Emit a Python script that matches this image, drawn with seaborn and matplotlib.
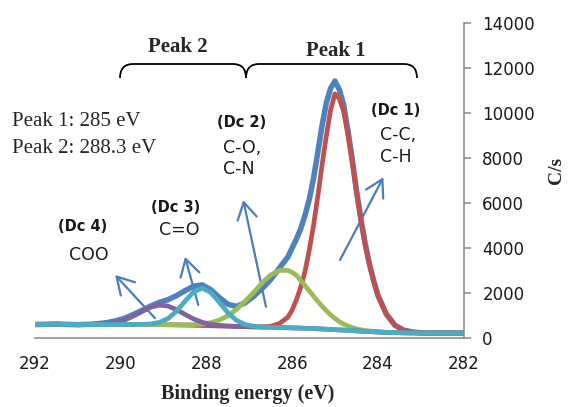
import matplotlib
matplotlib.use("Agg")
import matplotlib.pyplot as plt
import seaborn as sns
from matplotlib.path import Path
from matplotlib.patches import PathPatch, FancyArrowPatch

# ---------------- data ----------------
energy = [292.0, 291.5, 291.0, 290.7, 290.5, 290.3, 290.1, 289.9, 289.7, 289.5,
          289.3, 289.1, 288.9, 288.7, 288.5, 288.3, 288.1, 287.9, 287.7, 287.5,
          287.3, 287.1, 286.9, 286.7, 286.5, 286.3, 286.1, 286.0, 285.9, 285.8,
          285.7, 285.6, 285.5, 285.4, 285.3, 285.2, 285.1, 285.0, 284.9, 284.8,
          284.7, 284.6, 284.5, 284.4, 284.3, 284.2, 284.1, 284.0, 283.8, 283.6,
          283.4, 283.2, 283.0, 282.5, 282.0]

envelope = [600, 615, 592, 610, 640, 690, 770, 880, 1050, 1230,
            1420, 1580, 1700, 1880, 2100, 2300, 2360, 2150, 1800, 1500,
            1400, 1560, 1850, 2200, 2600, 3100, 3600, 4000, 4400, 4850,
            5450, 6150, 7100, 8250, 9450, 10450, 11100, 11420, 11050, 10380,
            9250, 7990, 6600, 5360, 4240, 3330, 2570, 1910, 1060, 565,
            350, 270, 230, 220, 220]

dc1 = [600, 615, 592, 600, 600, 600, 600, 600, 600, 600,
       598, 593, 588, 583, 575, 565, 555, 545, 535, 525,
       515, 505, 497, 492, 520, 640, 920, 1240, 1700, 2250,
       2950, 3900, 5000, 6300, 7700, 9000, 10150, 10850, 10650, 10100,
       9050, 7850, 6500, 5300, 4200, 3300, 2550, 1900, 1050, 560,
       350, 270, 230, 220, 220]

dc2 = [600, 615, 592, 600, 600, 600, 600, 600, 600, 600,
       598, 594, 591, 588, 585, 593, 620, 680, 795, 985,
       1265, 1630, 2020, 2450, 2800, 3000, 3010, 2920, 2780, 2560,
       2330, 2100, 1860, 1630, 1410, 1210, 1030, 870, 730, 620,
       535, 465, 410, 368, 336, 311, 291, 275, 255, 242,
       230, 225, 220, 220, 220]

dc3 = [600, 615, 592, 600, 600, 600, 600, 600, 601, 606,
       626, 691, 859, 1182, 1631, 2047, 2215, 2027, 1591, 1124,
       786, 603, 523, 491, 476, 465, 455, 450, 445, 440,
       432, 425, 418, 410, 400, 390, 380, 370, 360, 350,
       340, 330, 318, 306, 295, 285, 275, 265, 250, 240,
       230, 225, 220, 220, 220]

dc4 = [600, 615, 592, 604, 613, 638, 696, 805, 974, 1180,
       1366, 1461, 1420, 1263, 1050, 848, 698, 607, 558, 532,
       515, 505, 495, 485, 475, 465, 455, 450, 445, 440,
       432, 425, 418, 410, 400, 390, 380, 370, 360, 350,
       340, 330, 318, 306, 295, 285, 275, 265, 250, 240,
       230, 225, 220, 220, 220]

x_ticks = [292, 290, 288, 286, 284, 282]
y_ticks = [0, 2000, 4000, 6000, 8000, 10000, 12000, 14000]

peak_info = ["Peak 1: 285 eV", "Peak 2: 288.3 eV"]
peak_titles = ["Peak 2", "Peak 1"]
dc_titles = ["(Dc 1)", "(Dc 2)", "(Dc 3)", "(Dc 4)"]
dc_bonds = [["C-C,", "C-H"], ["C-O,", "C-N"], ["C=O"], ["COO"]]

# ---------------- figure ----------------
sns.set_style("white")
plt.rcParams["font.family"] = ["DejaVu Sans"]
SERIF = ["Liberation Serif", "DejaVu Serif"]

W, H = 568, 407
fig = plt.figure(figsize=(W / 100, H / 100), dpi=100)
ax = fig.add_axes([35 / W, 1 - 338 / H, (463.5 - 35) / W, (338 - 23) / H])


def fx(px):
    return px / W


def fy(py):
    return 1 - py / H


series = [
    (envelope, "#4F81BD", 4.0),
    (dc1, "#C0504D", 3.4),
    (dc2, "#9BBB59", 3.4),
    (dc4, "#8064A2", 3.4),
    (dc3, "#4BACC6", 3.4),
]
for vals, col, lw in series:
    sns.lineplot(x=energy, y=vals, ax=ax, color=col, linewidth=lw,
                 sort=False, errorbar=None, estimator=None,
                 solid_capstyle="round", solid_joinstyle="round")

ax.set_xlim(292, 282)
ax.set_ylim(0, 14000)
ax.set_xticks(x_ticks)
ax.set_xticklabels([str(t) for t in x_ticks])
ax.set_yticks(y_ticks)
ax.set_yticklabels([str(t) for t in y_ticks])
ax.yaxis.tick_right()
ax.set_xlabel("")
ax.set_ylabel("")
for s in ["left", "top"]:
    ax.spines[s].set_visible(False)
for s in ["right", "bottom"]:
    ax.spines[s].set_color("#868686")
    ax.spines[s].set_linewidth(1.1)
ax.tick_params(axis="x", direction="out", length=4.5, width=1.1, color="#868686",
               pad=8, labelsize=12, labelcolor="#1a1a1a", top=False)
ax.tick_params(axis="y", direction="out", length=5, width=1.1, color="#868686",
               pad=8.5, labelsize=12, labelcolor="#1a1a1a", left=False, right=True)
ax.grid(False)

# axis titles
fig.text(fx(248), fy(399), "Binding energy (eV)", ha="center", va="baseline",
         family=SERIF, fontweight="bold", fontsize=14.5)
fig.text(fx(556), fy(170), "C/s", ha="center", va="center", rotation=90,
         family=SERIF, fontweight="bold", fontsize=14)

# peak info text
fig.text(fx(12), fy(126), peak_info[0], ha="left", va="baseline", family=SERIF, fontsize=15)
fig.text(fx(12), fy(153), peak_info[1], ha="left", va="baseline", family=SERIF, fontsize=15)

# brace titles
fig.text(fx(178), fy(52), peak_titles[0], ha="center", va="baseline", family=SERIF,
         fontweight="bold", fontsize=15)
fig.text(fx(336), fy(56), peak_titles[1], ha="center", va="baseline", family=SERIF,
         fontweight="bold", fontsize=15)

# braces
def brace(x0, x1, ytop=64, ylow=78, r=13):
    verts = [(x0, ylow), (x0, ytop), (x0 + r, ytop), (x1 - r, ytop), (x1, ytop), (x1, ylow)]
    codes = [Path.MOVETO, Path.CURVE3, Path.CURVE3, Path.LINETO, Path.CURVE3, Path.CURVE3]
    verts = [(fx(a), fy(b)) for a, b in verts]
    fig.patches.append(PathPatch(Path(verts, codes), transform=fig.transFigure,
                                 fill=False, edgecolor="black", linewidth=1.3))


brace(120, 246)
brace(246, 417)

# component labels
lab_col = "#1a1a1a"
fig.text(fx(396), fy(110.5), dc_titles[0], ha="center", va="center", fontweight="bold",
         fontsize=10.5, color=lab_col)
fig.text(fx(380), fy(135.5), dc_bonds[0][0], ha="left", va="center", fontsize=12.5, color=lab_col)
fig.text(fx(380), fy(156.5), dc_bonds[0][1], ha="left", va="center", fontsize=12.5, color=lab_col)

fig.text(fx(242), fy(122.5), dc_titles[1], ha="center", va="center", fontweight="bold",
         fontsize=10.5, color=lab_col)
fig.text(fx(223), fy(148), dc_bonds[1][0], ha="left", va="center", fontsize=12.5, color=lab_col)
fig.text(fx(223), fy(168.5), dc_bonds[1][1], ha="left", va="center", fontsize=12.5, color=lab_col)

fig.text(fx(175.5), fy(207), dc_titles[2], ha="center", va="center", fontweight="bold",
         fontsize=10.5, color=lab_col)
fig.text(fx(179), fy(230), dc_bonds[2][0], ha="center", va="center", fontsize=12.5, color=lab_col)

fig.text(fx(83), fy(226.5), dc_titles[3], ha="center", va="center", fontweight="bold",
         fontsize=10.5, color=lab_col)
fig.text(fx(89), fy(254.5), dc_bonds[3][0], ha="center", va="center", fontsize=12.5, color=lab_col)

# arrows (data coordinates: tail -> head)
arrows = [
    ((284.88, 3470), (283.87, 7140)),
    ((286.61, 1390), (287.14, 6130)),
    ((288.19, 1470), (288.50, 3610)),
    ((289.20, 880), (290.13, 2800)),
]
for tail, head in arrows:
    ar = FancyArrowPatch(tail, head, arrowstyle="->,head_length=0.6,head_width=0.35",
                         mutation_scale=20, color="#4A7EBB", linewidth=1.6,
                         shrinkA=0, shrinkB=0, clip_on=False)
    ax.add_patch(ar)

fig.savefig("out.png", dpi=100)
